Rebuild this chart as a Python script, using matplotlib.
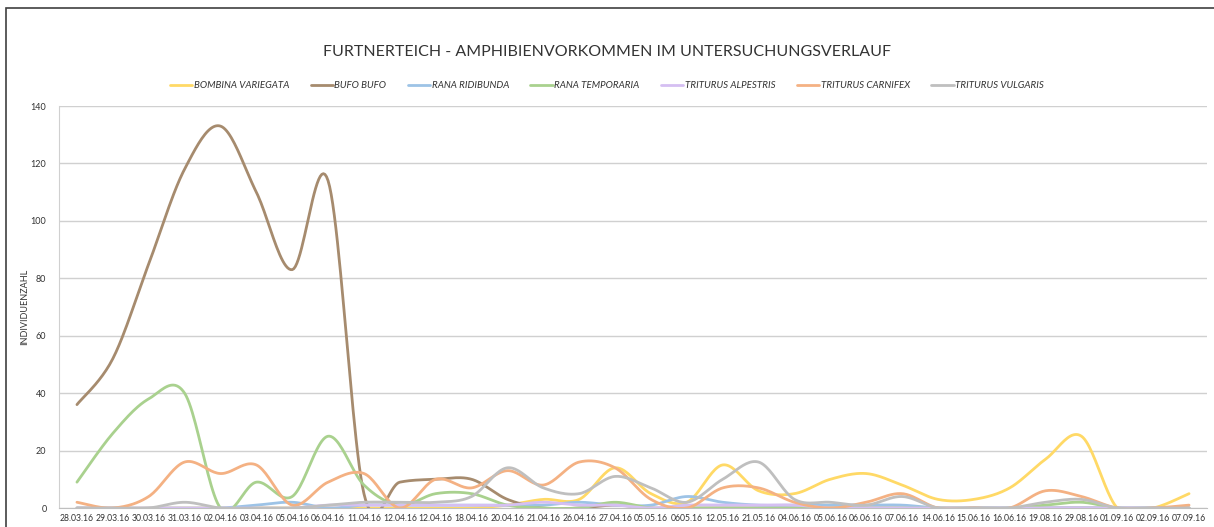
import numpy as np
import matplotlib.pyplot as plt
from matplotlib.patches import Rectangle

dates = ['28.03.16', '29.03.16', '30.03.16', '31.03.16', '02.04.16', '03.04.16', '05.04.16', '06.04.16',
         '11.04.16', '12.04.16', '12.04.16', '18.04.16', '20.04.16', '21.04.16', '26.04.16', '27.04.16',
         '05.05.16', '0605.16', '12.05.16', '21.05.16', '04.06.16', '05.06.16', '06.06.16', '07.06.16',
         '14.06.16', '15.06.16', '16.06.16', '19.08.16', '29.08.16', '01.09.16', '02.09.16', '07.09.16']

bombina = [0, 0, 0, 0, 0, 0, 0, 0, 0, 0, 0, 0, 1, 3, 3, 14, 5, 2, 15, 6, 5, 10, 12, 8, 3, 3, 7, 17, 25, 0, 0, 5]
bufo = [36, 52, 85, 118, 133, 110, 83, 114, 5, 9, 10, 10, 3, 0, 0, 1, 0, 0, 0, 0, 0, 0, 0, 0, 0, 0, 0, 0, 0, 0, 0, 0]
ridibunda = [0, 0, 0, 0, 0, 1, 2, 0, 1, 1, 1, 1, 1, 1, 2, 1, 1, 4, 2, 1, 1, 1, 1, 1, 0, 0, 0, 0, 0, 0, 0, 0]
temporaria = [9, 26, 38, 40, 0, 9, 4, 25, 8, 1, 5, 5, 1, 0, 0, 2, 0, 0, 0, 0, 0, 0, 0, 0, 0, 0, 0, 1, 2, 0, 0, 0]
alpestris = [0, 0, 0, 0, 0, 0, 0, 1, 1, 1, 1, 1, 1, 2, 1, 1, 0, 1, 1, 1, 1, 0, 0, 0, 0, 0, 0, 0, 0, 0, 0, 0]
carnifex = [2, 0, 4, 16, 12, 15, 1, 9, 12, 0, 10, 7, 13, 8, 16, 14, 3, 0, 7, 7, 2, 0, 2, 5, 0, 0, 0, 6, 4, 0, 0, 1]
vulgaris = [0, 0, 0, 2, 0, 0, 0, 1, 2, 2, 2, 4, 14, 7, 5, 11, 7, 2, 10, 16, 3, 2, 1, 4, 0, 0, 0, 2, 3, 0, 0, 0]

series = [
    ('BOMBINA VARIEGATA', bombina, '#FFD966'),
    ('BUFO BUFO', bufo, '#A68B6E'),
    ('RANA RIDIBUNDA', ridibunda, '#9DC3E6'),
    ('RANA TEMPORARIA', temporaria, '#A9D18E'),
    ('TRITURUS ALPESTRIS', alpestris, '#D5BFF2'),
    ('TRITURUS CARNIFEX', carnifex, '#F4B183'),
    ('TRITURUS VULGARIS', vulgaris, '#BFBFBF'),
]


def smooth(x, y, n=24):
    # excel style smoothed line: bezier through the points (catmull-rom)
    x = np.asarray(x, float)
    y = np.asarray(y, float)
    px = np.concatenate([[x[0]], x, [x[-1]]])
    py = np.concatenate([[y[0]], y, [y[-1]]])
    xs, ys = [], []
    t = np.linspace(0, 1, n)
    for i in range(1, len(px) - 2):
        p0x, p1x, p2x, p3x = px[i - 1], px[i], px[i + 1], px[i + 2]
        p0y, p1y, p2y, p3y = py[i - 1], py[i], py[i + 1], py[i + 2]
        c1x, c1y = p1x + (p2x - p0x) / 6, p1y + (p2y - p0y) / 6
        c2x, c2y = p2x - (p3x - p1x) / 6, p2y - (p3y - p1y) / 6
        bx = (1 - t)**3*p1x + 3*(1 - t)**2*t*c1x + 3*(1 - t)*t**2*c2x + t**3*p2x
        by = (1 - t)**3*p1y + 3*(1 - t)**2*t*c1y + 3*(1 - t)*t**2*c2y + t**3*p2y
        xs.extend(bx)
        ys.extend(by)
    return np.array(xs), np.array(ys)


plt.rcParams['font.family'] = ['Lato', 'DejaVu Sans']

fig = plt.figure(figsize=(12.14, 5.27), dpi=100)
ax = fig.add_axes([59/1214, 19/527, 1148/1214, 402/527])

xpos = np.arange(len(dates))
for name, vals, col in series:
    sx, sy = smooth(xpos, vals)
    ax.plot(sx, sy, color=col, lw=2.0, label=name, solid_capstyle='round')

ax.set_xlim(-0.5, len(dates) - 0.5)
ax.set_ylim(0, 140)
ax.set_yticks(range(0, 141, 20))
ax.set_xticks(xpos)
ax.set_xticklabels(dates, fontsize=6.2, color='#333333')
ax.tick_params(axis='y', labelsize=6.5, colors='#333333', length=0, pad=9)
ax.tick_params(axis='x', length=0, pad=4)
ax.grid(axis='y', color='#D0D0D0', lw=1.0)
ax.set_axisbelow(True)
for s in ['top', 'right']:
    ax.spines[s].set_visible(False)
ax.spines['bottom'].set_color('#BFBFBF')
ax.spines['left'].set_color('#D0D0D0')
ax.set_ylabel('INDIVIDUENZAHL', fontsize=6.5, color='#333333')
ax.yaxis.set_label_coords(-30/1148, 0.5)

fig.text(0.5, 1 - 52/527, 'FURTNERTEICH - AMPHIBIENVORKOMMEN IM UNTERSUCHUNGSVERLAUF',
         ha='center', va='center', fontsize=11.5, color='#333333')

leg = fig.legend(loc='center', bbox_to_anchor=(0.5, 1 - 86/527), ncol=7, frameon=False,
                 fontsize=7, handlelength=2.3, columnspacing=2.2, handletextpad=0.15)
for t in leg.get_texts():
    t.set_fontstyle('italic')
    t.set_color('#333333')

fig.patches.append(Rectangle((6/1214, -0.1), 1.2, 1 - 8/527 + 0.1, transform=fig.transFigure,
                             fill=False, edgecolor='#404040', lw=1.2))

fig.savefig('out.png', dpi=100)
